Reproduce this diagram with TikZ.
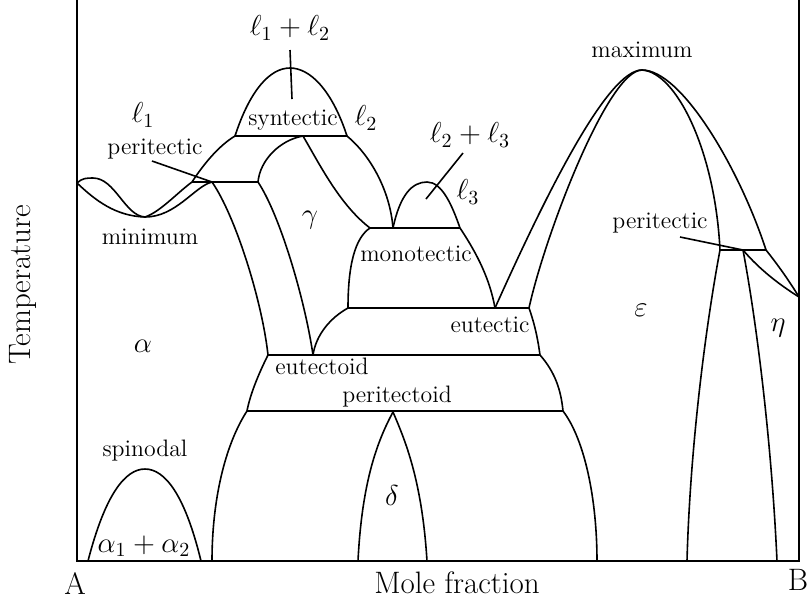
\RequirePackage{fix-cm}
\documentclass[tikz,border=0pt]{standalone}
\usepackage{amsmath}
\usepackage{tikz}
\tikzset{
  fase/.style={line width=0.8pt, line join=round},
  rotulo/.style={font=\fontsize{11.9}{14}\selectfont, inner sep=0pt},
  simbolo/.style={font=\fontsize{14.4}{17}\selectfont, inner sep=0pt},
  eixo/.style={font=\fontsize{15.5}{18}\selectfont, inner sep=0pt},
}

\begin{document}
\begin{tikzpicture}[x=0.5pt, y=-0.5pt]
  \useasboundingbox (0,0) rectangle (810,602);
  % eixos
  \coordinate (topoA) at (77,0);
  \coordinate (A0) at (77,561);
  \coordinate (B0) at (799,561);
  \coordinate (topoB) at (799,0);
  \draw[fase, line join=miter] (topoA) -- (A0) -- (B0) -- (topoB);
  % pontos invariantes
  \coordinate (wl) at (77,183);
  \coordinate (mn) at (145,217);
  \coordinate (pl1) at (192,182);
  \coordinate (pl2) at (212,182);
  \coordinate (pl3) at (258,182);
  \coordinate (sy1) at (235,136);
  \coordinate (sy2) at (303,136);
  \coordinate (sy3) at (347,136);
  \coordinate (sytop) at (290,68);
  \coordinate (mo1) at (370,228);
  \coordinate (mo2) at (393,228);
  \coordinate (mo3) at (460,228);
  \coordinate (motop) at (427,182);
  \coordinate (eu1) at (348,308);
  \coordinate (eu2) at (495,308);
  \coordinate (eu3) at (529,308);
  \coordinate (ed1) at (268,355);
  \coordinate (ed2) at (313,355);
  \coordinate (ed3) at (540,355);
  \coordinate (pd1) at (247,411);
  \coordinate (pd2) at (393,412);
  \coordinate (pd3) at (563,411);
  \coordinate (max) at (642,70);
  \coordinate (pr1) at (720,250);
  \coordinate (pr2) at (743,250);
  \coordinate (pr3) at (766,250);
  \coordinate (rw) at (799,297);
  \coordinate (sptop) at (145,469);
  % pontos na base
  \coordinate (sp1) at (88,561);
  \coordinate (sp2) at (201,561);
  \coordinate (b1) at (212,561);
  \coordinate (d1) at (358,561);
  \coordinate (d2) at (427,561);
  \coordinate (b2) at (597,561);
  \coordinate (e1) at (687,561);
  \coordinate (e2) at (777,561);
  % linhas horizontais
  \foreach \a/\b in {pl1/pl3,sy1/sy3,mo1/mo3,eu1/eu3,ed1/ed3,pd1/pd3,pr1/pr3}
    \draw[fase] (\a) -- (\b);
  % minimo
  \draw[fase] (wl) .. controls (82,178) and (87,178) .. (93,178)
    .. controls (115,178) and (125,216) .. (mn);
  \draw[fase] (wl) .. controls (95,200) and (115,216) .. (mn);
  \draw[fase] (mn) .. controls (160,212) and (177,193) .. (pl1);
  \draw[fase] (mn) .. controls (176,217) and (195,186) .. (pl2);
  \draw[fase] (pl1) .. controls (205,162) and (220,145) .. (sy1);
  % alfa e gama
  \draw[fase] (pl2) .. controls (235,215) and (262,300) .. (ed1);
  \draw[fase] (pl3) .. controls (280,215) and (305,300) .. (ed2);
  \draw[fase] (pl3) .. controls (260,160) and (280,140) .. (sy2);
  \draw[fase] (sy2) .. controls (320,165) and (340,205) .. (mo1);
  % sintetico
  \draw[fase] (sy1) .. controls (250,90) and (270,68) .. (sytop)
    .. controls (310,68) and (332,90) .. (sy3);
  \draw[fase] (sy3) .. controls (370,155) and (390,190) .. (mo2);
  % monotetico
  \draw[fase] (mo2) .. controls (400,195) and (412,182) .. (motop)
    .. controls (442,182) and (452,205) .. (mo3);
  \draw[fase] (mo1) .. controls (355,238) and (348,265) .. (eu1);
  \draw[fase] (mo3) .. controls (478,255) and (490,280) .. (eu2);
  % eutetico, eutetoide, peritetoide
  \draw[fase] (eu1) .. controls (330,318) and (316,335) .. (ed2);
  \draw[fase] (eu3) .. controls (535,325) and (538,340) .. (ed3);
  \draw[fase] (ed1) .. controls (258,375) and (250,395) .. (pd1);
  \draw[fase] (ed3) .. controls (555,372) and (561,390) .. (pd3);
  \draw[fase] (pd1) .. controls (225,445) and (212,500) .. (b1);
  \draw[fase] (pd3) .. controls (585,440) and (597,500) .. (b2);
  \draw[fase] (d1) .. controls (362,480) and (378,440) .. (pd2)
    .. controls (405,440) and (422,480) .. (d2);
  % spinodal
  \draw[fase] (sp1) .. controls (105,495) and (125,469) .. (sptop)
    .. controls (165,469) and (185,495) .. (sp2);
  % maximo
  \draw[fase] (eu2) .. controls (548,190) and (608,70) .. (max);
  \draw[fase] (eu3) .. controls (545,235) and (608,70) .. (max);
  \draw[fase] (max) .. controls (682,70) and (740,170) .. (pr3);
  \draw[fase] (max) .. controls (676,72) and (715,150) .. (pr1);
  \draw[fase] (pr1) .. controls (705,330) and (690,450) .. (e1);
  \draw[fase] (pr2) .. controls (758,330) and (772,450) .. (e2);
  \draw[fase] (pr2) .. controls (760,270) and (780,285) .. (rw);
  \draw[fase] (pr3) .. controls (778,265) and (790,282) .. (rw);
  % rotulos
  \node[simbolo] (l1l2) at (290,28) {$\ell_1+\ell_2$};
  \node[simbolo] (l1) at (143,115) {$\ell_1$};
  \node[simbolo] (l2) at (366,118) {$\ell_2$};
  \node[simbolo] (l2l3) at (470,135) {$\ell_2+\ell_3$};
  \node[simbolo] (l3) at (468,192) {$\ell_3$};
  \node[simbolo] (gama) at (310,220) {$\gamma$};
  \node[simbolo] (alfa) at (143,346) {$\alpha$};
  \node[simbolo] (alfas) at (144,546) {$\alpha_1+\alpha_2$};
  \node[simbolo] (delta) at (392,495) {$\delta$};
  \node[simbolo] (eps) at (641,310) {$\varepsilon$};
  \node[simbolo] (eta) at (778,328) {$\eta$};
  \node[rotulo] (perit1) at (155,149) {peritectic};
  \node[rotulo] (minimo) at (150,237) {minimum};
  \node[rotulo] (sint) at (293,120) {syntectic};
  \node[rotulo] (mono) at (416,254) {monotectic};
  \node[rotulo] (eut) at (490,325) {eutectic};
  \node[rotulo] (eutd) at (322,366) {eutectoid};
  \node[rotulo] (perd) at (397,397) {peritectoid};
  \node[rotulo] (spin) at (145,451) {spinodal};
  \node[rotulo] (maximo) at (642,50) {maximum};
  \node[rotulo] (perit2) at (660,223) {peritectic};
  \node[eixo] (A) at (75,584) {A};
  \node[eixo] (B) at (798,580) {B};
  \node[eixo] (fracao) at (457,583) {Mole fraction};
  \node[eixo, rotate=90] (temp) at (23,285) {Temperature};
  % linhas de chamada
  \coordinate (c1) at (290,50);
  \coordinate (c2) at (292,99);
  \coordinate (c3) at (463,153);
  \coordinate (c4) at (426,199);
  \coordinate (c5) at (152,161);
  \coordinate (c6) at (680,237);
  \foreach \a/\b in {c1/c2,c3/c4,c5/pl2,c6/pr2}
    \draw[fase] (\a) -- (\b);
\end{tikzpicture}
\end{document}
